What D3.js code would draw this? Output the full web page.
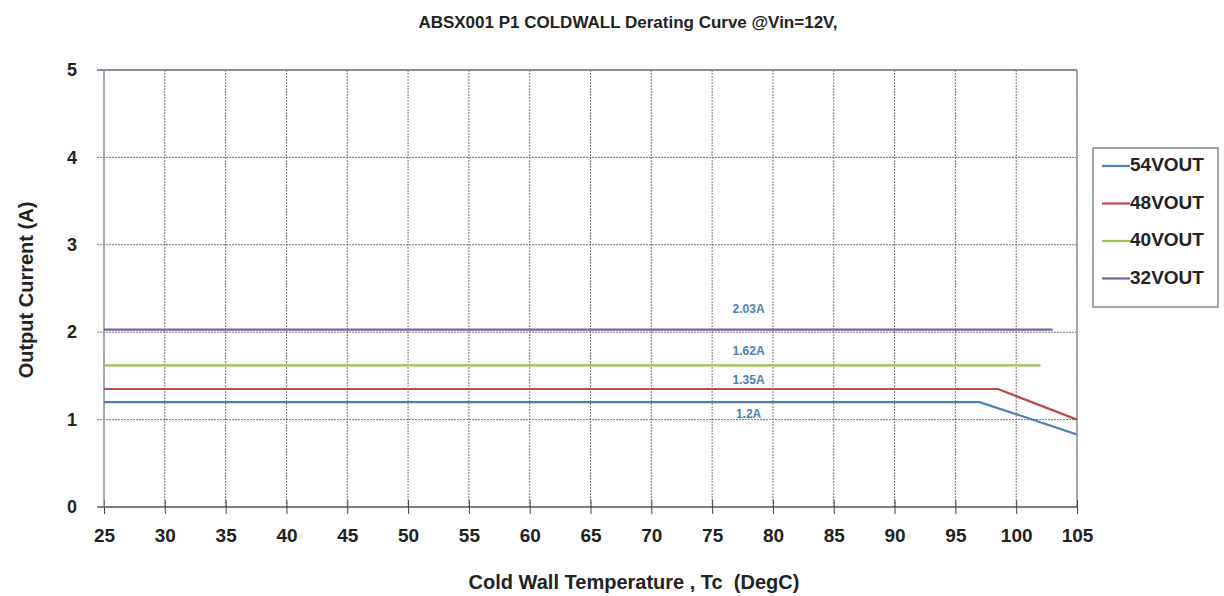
<!DOCTYPE html>
<html>
<head>
<meta charset="utf-8">
<script src="https://cdn.jsdelivr.net/npm/d3@7"></script>
<style>
  body { margin: 0; background: #fff; font-family: Arial, "Liberation Sans", sans-serif; }
  .grid line { stroke: #555; stroke-dasharray: 2,1; stroke-opacity: 0.8; }
  .axis text { font-weight: bold; fill: #222; }
</style>
</head>
<body>
<div id="plot"></div>
<script>
// data
var tempTicks = [25, 30, 35, 40, 45, 50, 55, 60, 65, 70, 75, 80, 85, 90, 95, 100, 105];
var currentTicks = [0, 1, 2, 3, 4, 5];
var seriesNames = ["54VOUT", "48VOUT", "40VOUT", "32VOUT"];
var seriesColors = ["#4a7ebb", "#be4b48", "#98c34f", "#7d60a0"];
var temp54 = [25, 97, 105], cur54 = [1.2, 1.2, 0.83];
var temp48 = [25, 98.5, 105], cur48 = [1.35, 1.35, 1.0];
var temp40 = [25, 102], cur40 = [1.62, 1.62];
var temp32 = [25, 103], cur32 = [2.03, 2.03];
var labelText = ["1.2A", "1.35A", "1.62A", "2.03A"];
var labelValue = [1.2, 1.35, 1.62, 2.03];

var margin = {top: 70, right: 147, bottom: 89, left: 104},
    width = 1224 - margin.left - margin.right,
    height = 596 - margin.top - margin.bottom;

var root = d3.select("#plot").append("svg")
    .attr("width", 1224).attr("height", 596);
var svg = root.append("g")
    .attr("transform", "translate(" + margin.left + "," + margin.top + ")");

var x = d3.scaleLinear().domain([25, 105]).range([0, width]);
var y = d3.scaleLinear().domain([0, 5]).range([height, 0]);

// grid lines
svg.append("g").attr("class", "grid")
  .selectAll("line").data(tempTicks.slice(1)).enter().append("line")
    .attr("x1", function(d) { return x(d); }).attr("x2", function(d) { return x(d); })
    .attr("y1", 0).attr("y2", height);
svg.append("g").attr("class", "grid")
  .selectAll("line").data(currentTicks.slice(1, 5)).enter().append("line")
    .attr("x1", -7).attr("x2", width)
    .attr("y1", function(d) { return y(d); }).attr("y2", function(d) { return y(d); });

// top border and right border
svg.append("line").attr("x1", -7).attr("x2", width).attr("y1", y(5)).attr("y2", y(5))
  .style("stroke", "#8a8a9a").style("stroke-width", 2);
svg.append("line").attr("x1", width).attr("x2", width).attr("y1", 0).attr("y2", height)
  .style("stroke", "#999").style("stroke-width", 1.5);

// axes
var xAxis = svg.append("g").attr("class", "axis")
  .attr("transform", "translate(0," + height + ")")
  .call(d3.axisBottom(x).tickValues(tempTicks).tickSize(7).tickPadding(15));
xAxis.selectAll("text").style("font-size", "19px");
xAxis.selectAll(".tick line").attr("y1", -7).attr("y2", 7).style("stroke", "#444");
xAxis.select(".domain").attr("d", "M-7,0H" + width).style("stroke", "#555").style("stroke-width", 1.5);

var yAxis = svg.append("g").attr("class", "axis")
  .call(d3.axisLeft(y).tickValues(currentTicks).tickFormat(d3.format("d")).tickSize(0).tickPadding(27));
yAxis.selectAll("text").style("font-size", "18px");
yAxis.select(".domain").attr("d", "M0,0V" + height).style("stroke", "#8a8a9a").style("stroke-width", 1.5);

// series lines
var line = d3.line().x(function(d) { return x(d[0]); }).y(function(d) { return y(d[1]); });
var series = [d3.zip(temp54, cur54), d3.zip(temp48, cur48), d3.zip(temp40, cur40), d3.zip(temp32, cur32)];
svg.append("g").selectAll("path").data(series).enter().append("path")
  .attr("d", line)
  .style("fill", "none")
  .style("stroke", function(d, i) { return seriesColors[i]; })
  .style("stroke-width", 2.2);

// value labels
var labelShift = [13, -8, -14, -20];
svg.append("g").selectAll("text").data(labelText).enter().append("text")
  .attr("x", x(78))
  .attr("y", function(d, i) { return y(labelValue[i]) + labelShift[i]; })
  .attr("text-anchor", "middle")
  .attr("dominant-baseline", "middle")
  .style("font-size", "12px")
  .style("font-weight", "bold")
  .style("fill", "#4a7ebb")
  .text(function(d) { return d; });

// legend
var legend = root.append("g").attr("transform", "translate(1093,148)");
legend.append("rect").attr("width", 125).attr("height", 159)
  .style("fill", "#fff").style("stroke", "#888").style("stroke-width", 1.5);
var item = legend.selectAll(".item").data(seriesNames).enter().append("g")
  .attr("transform", function(d, i) { return "translate(0," + (18 + i * 37.5) + ")"; });
item.append("line").attr("x1", 9).attr("x2", 37).attr("y1", 0).attr("y2", 0)
  .style("stroke", function(d, i) { return seriesColors[i]; }).style("stroke-width", 2.2);
item.append("text").attr("x", 37).attr("y", 0).attr("dominant-baseline", "middle")
  .style("font-size", "19px").style("font-weight", "bold").style("fill", "#222")
  .text(function(d) { return d; });

// titles
root.append("text").attr("x", 628).attr("y", 28).attr("text-anchor", "middle")
  .style("font-size", "17px").style("font-weight", "bold").style("fill", "#222")
  .text("ABSX001 P1 COLDWALL Derating Curve @Vin=12V,");
root.append("text").attr("x", 634).attr("y", 589).attr("text-anchor", "middle")
  .style("font-size", "20px").style("font-weight", "bold").style("fill", "#222")
  .style("white-space", "pre").attr("xml:space", "preserve")
  .text("Cold Wall Temperature , Tc  (DegC)");
root.append("text").attr("transform", "rotate(-90)")
  .attr("x", -290).attr("y", 33).attr("text-anchor", "middle")
  .style("font-size", "20px").style("font-weight", "bold").style("fill", "#222")
  .text("Output Current (A)");
</script>
</body>
</html>
